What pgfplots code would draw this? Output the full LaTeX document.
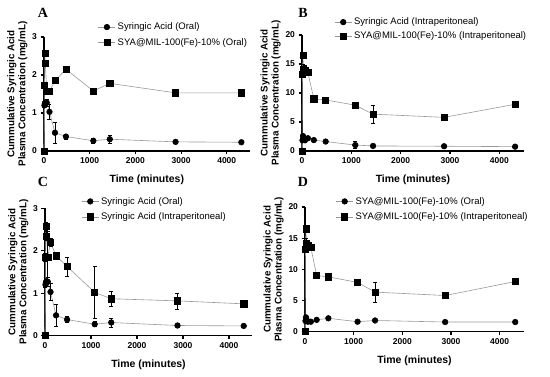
\documentclass[border=0pt]{standalone}
\usepackage{fontspec}
\setmainfont{Liberation Sans}
\newfontfamily\seriffont{Liberation Serif}
\usepackage{pgfplots}
\pgfplotsset{compat=1.18}

\pgfplotsset{
 gp/.style={
  scale only axis, xmin=0, xmax=4500, ymin=0,
  axis x line*=bottom, axis y line*=left,
  axis line style={line width=1.3pt,-},
  tick align=outside, major tick length=3.5pt,
  every tick/.style={black, line width=1.1pt},
  xtick={0,1000,2000,3000,4000},
  scaled x ticks=false,
  /pgf/number format/assume math mode=true,
  /pgf/number format/1000 sep={},
  ticklabel style={font=\bfseries\fontsize{8.5}{9}\selectfont},
  xlabel={Time (minutes)},
  xlabel style={font=\bfseries\fontsize{10.5}{11}\selectfont, yshift=-4pt},
  ylabel style={font=\bfseries\fontsize{9.8}{11}\selectfont, align=center, yshift=-2pt},
  ylabel={Cummulative Syringic Acid\\Plasma Concentration (mg/mL)},
  legend style={draw=none, fill=none, font=\fontsize{9.5}{10}\selectfont, anchor=north west,
    inner xsep=0pt, inner ysep=0pt, row sep=3pt},
  legend cell align=left,
  clip=false,
 },
 circ/.style={color=gray!80, line width=0.6pt, mark=*, mark size=2.8pt,
   mark options={black, fill=black, solid},
   error bars/.cd, y dir=both, y explicit,
   error bar style={black, line width=0.6pt},
   error mark options={black, mark size=2pt, line width=0.6pt, rotate=90}},
 sq/.style={color=gray!80, line width=0.6pt, mark=square*, mark size=3.1pt,
   mark options={black, fill=black, solid},
   error bars/.cd, y dir=both, y explicit,
   error bar style={black, line width=0.6pt},
   error mark options={black, mark size=2pt, line width=0.6pt, rotate=90}},
}

\begin{document}
\begin{tikzpicture}[x=1pt,y=1pt]
\useasboundingbox (0,0) rectangle (550,377);

% Panel A
\begin{axis}[gp, at={(44pt,226pt)}, anchor=south west, width=205.6pt, height=114pt,
  ymax=3, ytick={0,1,2,3},
  legend style={at={(0.262,1.143)}}]
\addplot+[circ] coordinates {
 (0,0) +- (0,0) (10,1.20) +- (0,0.05) (20,1.25) +- (0,0.05) (30,1.28) +- (0,0.08) (60,1.27) +- (0,0.1)
 (120,1.03) +- (0,0.2) (240,0.48) +- (0,0.27) (480,0.38) +- (0,0.07) (1080,0.27) +- (0,0.06)
 (1440,0.31) +- (0,0.11) (2880,0.24) +- (0,0.03) (4320,0.23) +- (0,0.02)};
\addlegendentry{Syringic Acid (Oral)}
\addplot+[sq] coordinates {
 (0,0) +- (0,0) (10,1.72) +- (0,0.05) (20,2.58) +- (0,0.05) (30,2.30) +- (0,0.05) (60,1.57) +- (0,0.05)
 (120,1.57) +- (0,0.05) (240,1.85) +- (0,0.05) (480,2.15) +- (0,0.06) (1080,1.58) +- (0,0.05)
 (1440,1.78) +- (0,0.05) (2880,1.53) +- (0,0.03) (4320,1.53) +- (0,0.03)};
\addlegendentry{SYA@MIL-100(Fe)-10\% (Oral)}
\end{axis}

% Panel B
\begin{axis}[gp, at={(302pt,226pt)}, anchor=south west, width=222pt, height=116pt,
  ymax=20, ytick={0,5,10,15,20},
  legend style={at={(0.145,1.166)}, row sep=1.5pt}]
\addplot+[circ] coordinates {
 (0,0) +- (0,0) (10,1.85) +- (0,0.1) (20,2.58) +- (0,0.1) (30,2.35) +- (0,0.1) (60,1.85) +- (0,0.3)
 (120,2.2) +- (0,0.1) (240,1.88) +- (0,0.1) (480,1.63) +- (0,0.2) (1080,1.02) +- (0,0.6)
 (1440,0.87) +- (0,0.17) (2880,0.82) +- (0,0.19) (4320,0.75) +- (0,0.05)};
\addlegendentry{Syringic Acid (Intraperitoneal)}
\addplot+[sq] coordinates {
 (0,0) +- (0,0) (10,13.2) +- (0,0.3) (20,16.5) +- (0,0.3) (30,14.1) +- (0,0.8) (60,13.9) +- (0,0.8)
 (120,13.5) +- (0,0.4) (240,9.0) +- (0,0.2) (480,8.8) +- (0,0.2) (1080,7.9) +- (0,0.2)
 (1440,6.35) +- (0,1.6) (2880,5.8) +- (0,0.3) (4320,8.05) +- (0,0.2)};
\addlegendentry{SYA@MIL-100(Fe)-10\% (Intraperitoneal)}
\end{axis}

% Panel C
\begin{axis}[gp, at={(45pt,41.3pt)}, anchor=south west, width=207pt, height=127.4pt,
  ymax=3, ytick={0,1,2,3},
  legend style={at={(0.175,1.104)}}]
\addplot+[circ] coordinates {
 (0,0) +- (0,0) (10,1.20) +- (0,0.05) (20,1.25) +- (0,0.05) (30,1.28) +- (0,0.08) (60,1.27) +- (0,0.1)
 (120,1.03) +- (0,0.2) (240,0.48) +- (0,0.27) (480,0.38) +- (0,0.07) (1080,0.27) +- (0,0.06)
 (1440,0.31) +- (0,0.11) (2880,0.24) +- (0,0.03) (4320,0.23) +- (0,0.02)};
\addlegendentry{Syringic Acid (Oral)}
\addplot+[sq] coordinates {
 (0,0) +- (0,0) (10,1.85) +- (0,0.1) (20,2.58) +- (0,0.1) (30,2.35) +- (0,0.1) (60,1.85) +- (0,0.6)
 (120,2.2) +- (0,0.1) (240,1.88) +- (0,0.07) (480,1.63) +- (0,0.22) (1080,1.02) +- (0,0.62)
 (1440,0.87) +- (0,0.17) (2880,0.82) +- (0,0.19) (4320,0.75) +- (0,0.03)};
\addlegendentry{Syringic Acid (Intraperitoneal)}
\end{axis}

% Panel D
\begin{axis}[gp, at={(305pt,45.3pt)}, anchor=south west, width=219pt, height=124.7pt,
  ymax=20, ytick={0,5,10,15,20},
  legend style={at={(0.14,1.096)}}]
\addplot+[circ] coordinates {
 (0,0) +- (0,0) (10,1.72) +- (0,0.05) (20,2.3) +- (0,0.05) (30,2.0) +- (0,0.05) (60,1.6) +- (0,0.05)
 (120,1.6) +- (0,0.05) (240,1.9) +- (0,0.05) (480,2.15) +- (0,0.06) (1080,1.6) +- (0,0.05)
 (1440,1.8) +- (0,0.05) (2880,1.55) +- (0,0.03) (4320,1.55) +- (0,0.03)};
\addlegendentry{SYA@MIL-100(Fe)-10\% (Oral)}
\addplot+[sq] coordinates {
 (0,0) +- (0,0) (10,13.2) +- (0,0.3) (20,16.5) +- (0,0.3) (30,14.1) +- (0,0.8) (60,13.9) +- (0,0.8)
 (120,13.5) +- (0,0.4) (240,9.0) +- (0,0.2) (480,8.8) +- (0,0.2) (1080,7.9) +- (0,0.2)
 (1440,6.35) +- (0,1.6) (2880,5.8) +- (0,0.3) (4320,8.05) +- (0,0.2)};
\addlegendentry{SYA@MIL-100(Fe)-10\% (Intraperitoneal)}
\end{axis}

\node[font=\seriffont\bfseries\fontsize{14}{14}\selectfont] at (43,364) {A};
\node[font=\seriffont\bfseries\fontsize{14}{14}\selectfont] at (303,364) {B};
\node[font=\seriffont\bfseries\fontsize{14}{14}\selectfont] at (43,195) {C};
\node[font=\seriffont\bfseries\fontsize{14}{14}\selectfont] at (303,195) {D};
\end{tikzpicture}
\end{document}
